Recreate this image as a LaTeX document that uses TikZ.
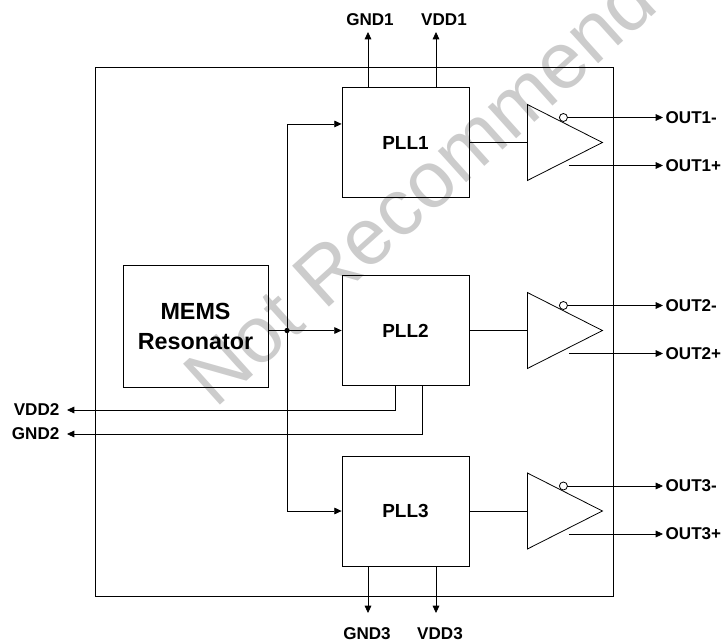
\documentclass[tikz,border=0pt]{standalone}
\usepackage{fontspec}
\setmainfont{Liberation Sans}
\usetikzlibrary{arrows.meta,positioning}
\begin{document}
\begin{tikzpicture}[x=0.75pt, y=-0.75pt, >={Triangle[length=5.5pt,width=5pt]}, line width=0.6pt,
        blk/.style={draw, minimum width=95.25pt, minimum height=82.5pt, font=\bfseries\fontsize{14.2}{16}\selectfont},
        lbl/.style={inner sep=0pt, outer sep=2pt, font=\bfseries\fontsize{12.8}{14}\selectfont}]
        \useasboundingbox (0,0) rectangle (727,642);
        % watermark
        \node[text=black!20, font=\fontsize{60}{60}\selectfont, rotate=42] (wm) at (452,158) {Not Recommended};
        % chip outline
        \draw (95,67) rectangle (613,596);
        \node[draw, minimum width=108.75pt, minimum height=91.5pt, align=center,
              font=\bfseries\fontsize{17.5}{22.5}\selectfont] (mems) at (195.5,326) {MEMS\\Resonator};
        \node[blk] (pll1) at (405.5,142.5) {PLL1};
        \node[blk] (pll2) at (405.5,330.5) {PLL2};
        \node[blk] (pll3) at (405.5,511) {PLL3};
        % reference distribution
        \coordinate (jn) at (287,330.5);
        \draw (mems.east |- jn) -- (jn);
        \fill (jn) circle (2pt);
        \draw[->] (jn) -- (pll2.west |- jn);
        \draw[->] (jn) |- ([yshift=13.9pt]pll1.west);
        \draw[->] (jn) |- (pll3.west);
        % supply pins
        \coordinate (g1) at (368,32);
        \coordinate (v1) at (436,32);
        \node[lbl] (gnd1) at (370,20) {GND1};
        \node[lbl] (vdd1) at (444,20) {VDD1};
        \draw[->] (pll1.north -| g1) -- (g1);
        \draw[->] (pll1.north -| v1) -- (v1);
        \coordinate (v2) at (67,410);
        \coordinate (g2) at (67,434);
        \node[lbl, anchor=east] (vdd2) at (62,410) {VDD2};
        \node[lbl, anchor=east] (gnd2) at (62,434) {GND2};
        \draw[->] ([xshift=-7.9pt]pll2.south) |- (v2);
        \draw[->] ([xshift=12.4pt]pll2.south) |- (g2);
        \coordinate (g3) at (368,613);
        \coordinate (v3) at (436,613);
        \node[lbl] (gnd3) at (367,634) {GND3};
        \node[lbl] (vdd3) at (440,634) {VDD3};
        \draw[->] (pll3.south -| g3) -- (g3);
        \draw[->] (pll3.south -| v3) -- (v3);
        % output buffers
        \coordinate (rx) at (663,0);
        \foreach \i in {1,2,3}{
            \path (pll\i.east) ++(58,0) coordinate (tri\i);
            \draw (pll\i.east) -- (tri\i);
            \draw (tri\i) -- ++(0,-38) -- ++(75,38) -- ++(-75,38) -- cycle;
            \draw (tri\i) ++(36,-25) coordinate (bub\i) circle (3pt);
            \path (tri\i) ++(41.5,23) coordinate (pin\i);
            \node[lbl, anchor=west] (outn\i) at (bub\i -| rx) {OUT\i-};
            \node[lbl, anchor=west] (outp\i) at (pin\i -| rx) {OUT\i+};
            \draw[->] ([xshift=3pt]bub\i) -- (outn\i);
            \draw[->] (pin\i) -- (outp\i);
        }
\end{tikzpicture}
\end{document}
